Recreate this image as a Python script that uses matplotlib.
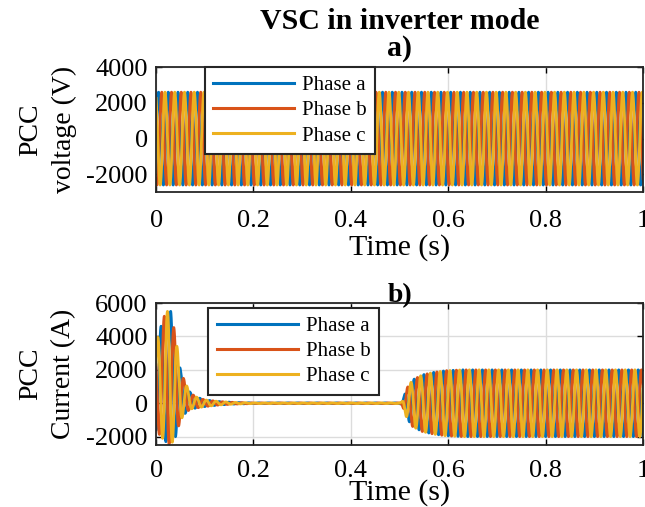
import numpy as np
import matplotlib.pyplot as plt

plt.rcParams['font.family'] = ['Liberation Serif', 'DejaVu Serif']
plt.rcParams['axes.unicode_minus'] = False

# values
f_grid = 50.0                      # Hz, one period every ~10 px
v_peak = 2600.0                    # PCC voltage amplitude (V)
phase_names = ['Phase a', 'Phase b', 'Phase c']
phase_shift = [0.0, -120.0, 120.0]  # degrees
colors = ['#0072BD', '#D95319', '#EDB120']

# current envelope breakpoints (time, amplitude, dc offset)
i_env_t = [0.0, 0.01, 0.02, 0.03, 0.04, 0.05, 0.06, 0.07, 0.08, 0.1, 0.13, 0.16, 0.2,
           0.5, 0.505, 0.515, 0.527, 0.547, 0.57, 0.595, 0.63, 1.0]
i_env_amp = [2600, 3300, 3900, 4000, 3000, 1500, 900, 500, 350, 200, 100, 50, 20,
             20, 100, 900, 1400, 1700, 1850, 1950, 2000, 2000]
i_env_dc = [1000, 1300, 1600, 1500, 1000, 500, 300, 150, 50, 0, 0, 0, 0,
            0, 0, 0, 0, 0, 0, 0, 0, 0]

x_ticks = [0, 0.2, 0.4, 0.6, 0.8, 1]
x_ticklabels = ['0', '0.2', '0.4', '0.6', '0.8', '1']
v_ticks = [-2000, 0, 2000, 4000]
i_ticks = [-2000, 0, 2000, 4000, 6000]

t = np.linspace(0, 1, 20001)
amp_i = np.interp(t, i_env_t, i_env_amp)
dc_i = np.interp(t, i_env_t, i_env_dc)

fig = plt.figure(figsize=(6.45, 5.07), dpi=100)
ax1 = fig.add_axes([0.242, 0.621, 0.755, 0.2465])
ax2 = fig.add_axes([0.242, 0.1223, 0.755, 0.280])

for k in range(3):
    ph = np.deg2rad(phase_shift[k])
    v = v_peak * np.sin(2 * np.pi * f_grid * t + ph)
    ax1.plot(t, v, color=colors[k], lw=2, label=phase_names[k])
    i = dc_i + amp_i * np.sin(2 * np.pi * f_grid * t + ph - np.pi / 2)
    ax2.plot(t, i, color=colors[k], lw=2, label=phase_names[k])

for ax, yt, ylim, ylab, tpad, lpad in [(ax1, v_ticks, (-3000, 4000), 'PCC\nvoltage (V)', 13, 1),
                                       (ax2, i_ticks, (-2500, 6000), 'PCC\nCurrent (A)', 11, -2)]:
    ax.set_xlim(0, 1)
    ax.set_ylim(*ylim)
    ax.set_xticks(x_ticks)
    ax.set_xticklabels(x_ticklabels)
    ax.set_yticks(yt)
    ax.tick_params(direction='in', top=True, right=True, labelsize=19, length=4, width=1)
    ax.tick_params(axis='x', pad=tpad)
    ax.tick_params(axis='y', pad=6)
    ax.grid(True, color='#dcdcdc', lw=1)
    ax.set_axisbelow(True)
    for s in ax.spines.values():
        s.set_linewidth(1.3)
        s.set_color('#262626')
    ax.set_xlabel('Time (s)', fontsize=21.5, labelpad=lpad)
    ax.set_ylabel(ylab, fontsize=20, linespacing=1.45, labelpad=7)

ax1.set_title('VSC in inverter mode\na)', fontsize=21.5, fontweight='bold', linespacing=1.0, pad=8)
ax2.set_title('b)', fontsize=20, fontweight='bold', pad=1)

leg_kw = dict(loc='upper left', fontsize=15, handlelength=3.9, fancybox=False, framealpha=1,
              edgecolor='#262626', borderpad=0.4, labelspacing=0.27, handletextpad=0.38,
              borderaxespad=0)
l1 = ax1.legend(bbox_to_anchor=(0.1, 1.0), **leg_kw)
l2 = ax2.legend(bbox_to_anchor=(0.107, 0.965), **leg_kw)
for l in (l1, l2):
    l.get_frame().set_linewidth(1.5)
    for h in l.get_lines():
        h.set_linewidth(2.2)

fig.savefig('out.png', dpi=100)
